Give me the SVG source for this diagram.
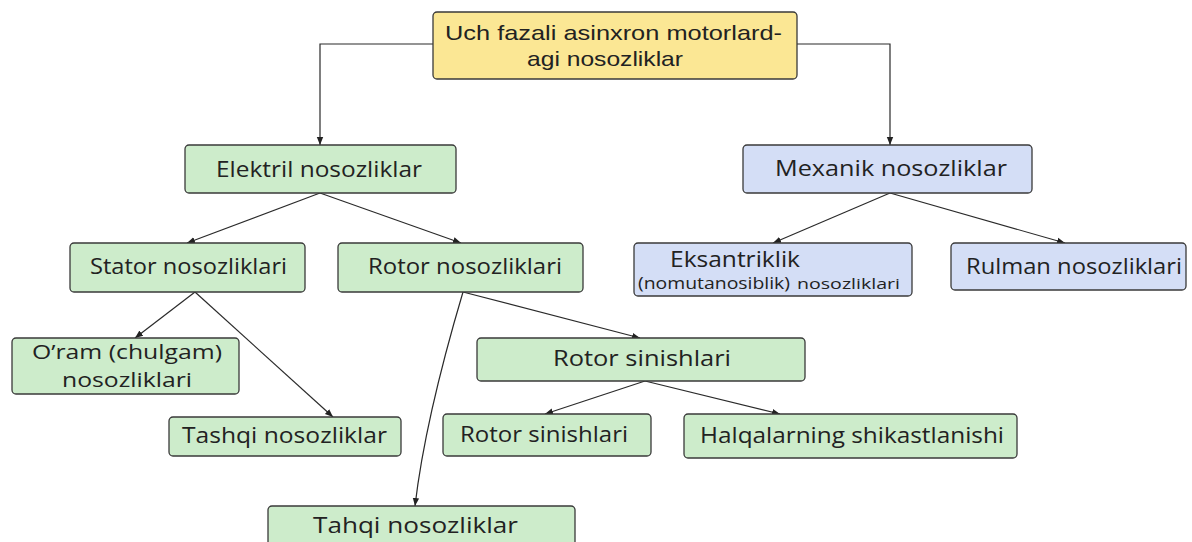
<svg xmlns="http://www.w3.org/2000/svg" width="1192" height="542" viewBox="0 0 1192 542">
<defs>
<marker id="arr" viewBox="0 0 10 10" refX="10" refY="5" markerWidth="8" markerHeight="8" orient="auto" markerUnits="userSpaceOnUse">
<path d="M0,1 L10,5 L0,9 z" fill="#222"/>
</marker>
<style>
.box{stroke:#3a3a3a;stroke-width:1.3}
.y{fill:#fbe794}
.g{fill:#cdeccb}
.b{fill:#d4def6}
text{font-family:"Open Sans","Noto Sans","Liberation Sans",sans-serif;font-size:21px;fill:#222;text-anchor:start}
.r{font-family:"Liberation Sans",Arial,sans-serif;font-size:21px}
.c{fill:none;stroke:#2a2a2a;stroke-width:1.2;marker-end:url(#arr)}
</style>
</defs>
<rect width="1192" height="542" fill="#fff"/>
<g id="connectors">
<path class="c" d="M433,44 H320 V145"/>
<path class="c" d="M797,44 H890 V145"/>
<path class="c" d="M320,193 L187,243"/>
<path class="c" d="M320,193 L461,243"/>
<path class="c" d="M890,193 L773,243"/>
<path class="c" d="M890,193 L1065,243"/>
<path class="c" d="M195,292 L135,338"/>
<path class="c" d="M195,292 L333,417"/>
<path class="c" d="M463,292 L640,338"/>
<path class="c" d="M463,292 Q425,420 415,506"/>
<path class="c" d="M645,381 L545,414"/>
<path class="c" d="M645,381 L780,414"/>
</g>
<g id="root"><rect class="box y" x="433" y="12" width="364" height="67" rx="4"/><text class="r" x="445" y="40" textLength="337" lengthAdjust="spacingAndGlyphs">Uch fazali asinxron motorlard-</text><text class="r" x="527" y="66" textLength="156" lengthAdjust="spacingAndGlyphs">agi nosozliklar</text></g>
<g id="elektril"><rect class="box g" x="185" y="145" width="271" height="48" rx="4"/><text x="216" y="177" textLength="206" lengthAdjust="spacingAndGlyphs">Elektril nosozliklar</text></g>
<g id="mexanik"><rect class="box b" x="743" y="145" width="289" height="48" rx="4"/><text x="775" y="176" textLength="232" lengthAdjust="spacingAndGlyphs">Mexanik nosozliklar</text></g>
<g id="stator"><rect class="box g" x="70" y="243" width="235" height="49" rx="4"/><text x="90" y="274" textLength="197" lengthAdjust="spacingAndGlyphs">Stator nosozliklari</text></g>
<g id="rotor"><rect class="box g" x="338" y="243" width="245" height="49" rx="4"/><text x="368" y="274" textLength="194" lengthAdjust="spacingAndGlyphs">Rotor nosozliklari</text></g>
<g id="eksantriklik"><rect class="box b" x="634" y="243" width="278" height="53" rx="4"/><text x="670" y="267" textLength="130" lengthAdjust="spacingAndGlyphs">Eksantriklik</text><text x="638" y="289" style="font-size:16px" textLength="152" lengthAdjust="spacingAndGlyphs">(nomutanosiblik)</text><text x="797" y="289" style="font-size:14px" textLength="103" lengthAdjust="spacingAndGlyphs">nosozliklari</text></g>
<g id="rulman"><rect class="box b" x="951" y="243" width="235" height="47" rx="4"/><text x="966" y="274" textLength="216" lengthAdjust="spacingAndGlyphs">Rulman nosozliklari</text></g>
<g id="oram"><rect class="box g" x="12" y="338" width="227" height="56" rx="4"/><text x="32" y="359" textLength="190" lengthAdjust="spacingAndGlyphs" style="font-size:20px">O’ram (chulgam)</text><text x="62" y="387" textLength="130" lengthAdjust="spacingAndGlyphs" style="font-size:20px">nosozliklari</text></g>
<g id="tashqi"><rect class="box g" x="169" y="417" width="232" height="39" rx="4"/><text x="182" y="443" textLength="205" lengthAdjust="spacingAndGlyphs">Tashqi nosozliklar</text></g>
<g id="rotor-sinishlari"><rect class="box g" x="477" y="338" width="328" height="43" rx="4"/><text x="553" y="366" textLength="178" lengthAdjust="spacingAndGlyphs">Rotor sinishlari</text></g>
<g id="rotor-sinishlari-2"><rect class="box g" x="443" y="414" width="208" height="42" rx="4"/><text x="460" y="442" textLength="168" lengthAdjust="spacingAndGlyphs">Rotor sinishlari</text></g>
<g id="halqalar"><rect class="box g" x="684" y="414" width="333" height="44" rx="4"/><text x="700" y="443" textLength="304" lengthAdjust="spacingAndGlyphs">Halqalarning shikastlanishi</text></g>
<g id="tahqi"><rect class="box g" x="268" y="506" width="307" height="45" rx="4"/><text x="313" y="533" textLength="205" lengthAdjust="spacingAndGlyphs">Tahqi nosozliklar</text></g>
</svg>
